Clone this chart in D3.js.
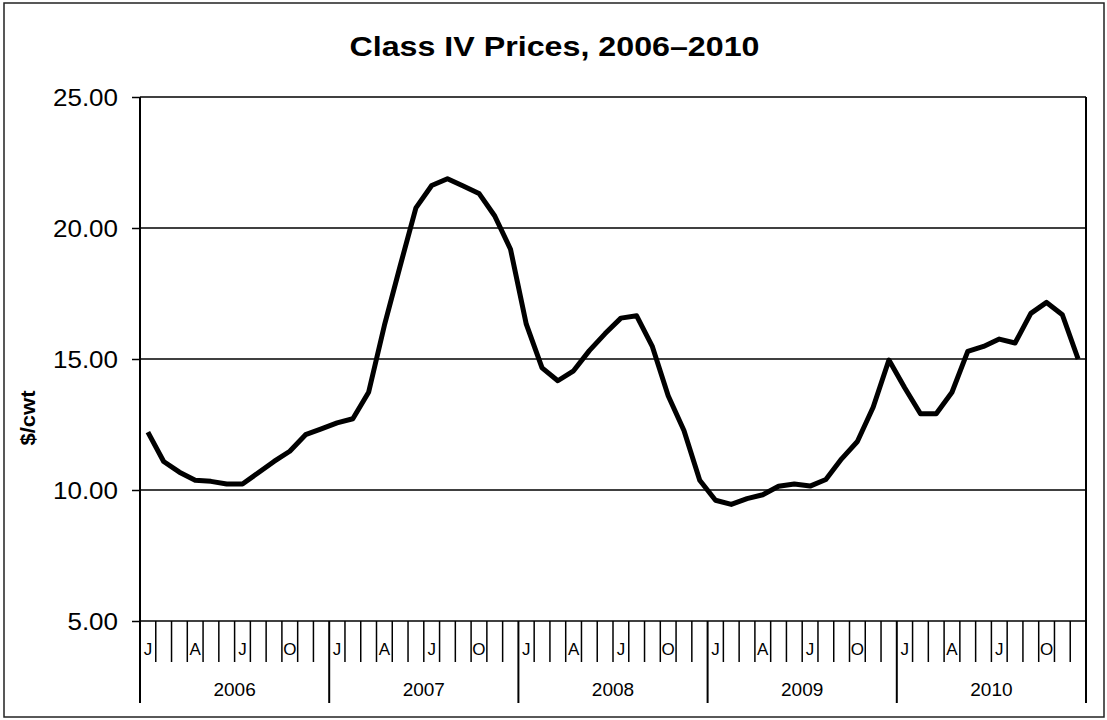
<!DOCTYPE html>
<html lang="en">
<head>
<meta charset="utf-8">
<title>Class IV Prices, 2006-2010</title>
<style>
  body { margin: 0; background: #fff; }
  text { font-family: "Liberation Sans", Arial, sans-serif; fill: #000; }
</style>
</head>
<body>
<svg width="1107" height="720"></svg>
<script src="https://d3js.org/d3.v7.min.js"></script>
<script>

var years = ["2006", "2007", "2008", "2009", "2010"];
var monthLabels = ["J", "", "", "A", "", "", "J", "", "", "O", "", ""];
var yTicks = [5, 10, 15, 20, 25];

// monthly class IV price, $/cwt, Jan 2006 - Dec 2010
var prices2006 = [12.21, 11.09, 10.68, 10.37, 10.33, 10.23, 10.23, 10.66, 11.09, 11.48, 12.11, 12.33];
var prices2007 = [12.56, 12.72, 13.73, 16.28, 18.55, 20.77, 21.62, 21.88, 21.60, 21.32, 20.46, 19.19];
var prices2008 = [16.33, 14.66, 14.17, 14.55, 15.32, 15.97, 16.56, 16.65, 15.47, 13.60, 12.27, 10.37];
var prices2009 = [9.61, 9.45, 9.67, 9.82, 10.14, 10.23, 10.15, 10.40, 11.19, 11.85, 13.16, 14.96];
var prices2010 = [13.90, 12.91, 12.91, 13.73, 15.29, 15.48, 15.76, 15.61, 16.74, 17.16, 16.69, 15.00];

var prices = [].concat(prices2006, prices2007, prices2008, prices2009, prices2010);

var svg = d3.select("svg"),
    plotL = 140, plotR = 1086, plotT = 97, plotB = 621;

// stretches text a bit wider, the original glyphs are wider than Arial
function widen(sel, f) {
  sel.each(function() {
    var w = this.getComputedTextLength();
    d3.select(this).attr("textLength", w * f).attr("lengthAdjust", "spacingAndGlyphs");
  });
}

var x = d3.scaleBand()
    .domain(d3.range(prices.length))
    .range([plotL, plotR]);

var y = d3.scaleLinear()
    .domain([5, 25])
    .range([plotB, plotT]);

// outer chart border
svg.append("rect")
    .attr("x", 4).attr("y", 3)
    .attr("width", 1100).attr("height", 714)
    .attr("fill", "none")
    .attr("stroke", "#222")
    .attr("stroke-width", 1.5);

var title = svg.append("text")
    .attr("x", 554.5).attr("y", 56)
    .attr("text-anchor", "middle")
    .style("font-size", "28px")
    .style("font-weight", "bold")
    .text("Class IV Prices, 2006\u20132010");
widen(title, 1.15);

// gridlines
svg.append("g")
  .selectAll("line")
  .data(yTicks.filter(function(d) { return d > 5; }))
  .enter().append("line")
    .attr("x1", plotL).attr("x2", plotR)
    .attr("y1", function(d) { return y(d); })
    .attr("y2", function(d) { return y(d); })
    .attr("stroke", "#000")
    .attr("stroke-width", 1.5);

// y axis
var yAxis = svg.append("g")
    .attr("transform", "translate(" + plotL + ",0)")
    .call(d3.axisLeft(y).tickValues(yTicks).tickSize(8).tickPadding(14).tickFormat(d3.format(".2f")));
yAxis.select(".domain").remove();
yAxis.selectAll(".tick line").attr("stroke", "#000").attr("stroke-width", 1.5);
yAxis.selectAll(".tick text")
    .style("font-size", "23px")
    .style("font-family", "'Liberation Sans', Arial, sans-serif")
    .attr("fill", "#000")
    .attr("dy", "0.35em");
widen(yAxis.selectAll(".tick text"), 1.13);

var ylab = svg.append("text")
    .attr("transform", "translate(35,418) rotate(-90)")
    .attr("text-anchor", "middle")
    .style("font-size", "20px")
    .style("font-weight", "bold")
    .text("$/cwt");
widen(ylab, 1.1);

// bottom of the plot
svg.append("line")
    .attr("x1", plotL).attr("x2", plotR)
    .attr("y1", plotB).attr("y2", plotB)
    .attr("stroke", "#000").attr("stroke-width", 1.5);

// month ticks at category boundaries, year boundaries run through the plot
var bounds = d3.range(prices.length + 1);
svg.append("g")
  .selectAll("line")
  .data(bounds)
  .enter().append("line")
    .attr("x1", function(d) { return plotL + d * x.bandwidth(); })
    .attr("x2", function(d) { return plotL + d * x.bandwidth(); })
    .attr("y1", function(d) { return (d === 0 || d === prices.length) ? plotT : plotB; })
    .attr("y2", function(d) { return d % 12 === 0 ? 703 : 662; })
    .attr("stroke", "#000")
    .attr("stroke-width", function(d) { return d % 12 === 0 ? 2 : 1.5; });

// month letters
svg.append("g")
  .selectAll("text")
  .data(d3.range(prices.length).filter(function(i) { return monthLabels[i % 12] !== ""; }))
  .enter().append("text")
    .attr("x", function(i) { return x(i) + x.bandwidth() / 2; })
    .attr("y", 655)
    .attr("text-anchor", "middle")
    .style("font-size", "17px")
    .text(function(i) { return monthLabels[i % 12]; });

// year labels
svg.append("g")
  .selectAll("text")
  .data(years)
  .enter().append("text")
    .attr("x", function(d, k) { return (x(k * 12) + x(k * 12 + 11) + x.bandwidth()) / 2; })
    .attr("y", 696)
    .attr("text-anchor", "middle")
    .style("font-size", "19px")
    .text(function(d) { return d; });

var line = d3.line()
    .x(function(d, i) { return x(i) + x.bandwidth() / 2; })
    .y(function(d) { return y(d); });

svg.append("path")
    .datum(prices)
    .attr("d", line)
    .attr("fill", "none")
    .attr("stroke", "#000")
    .attr("stroke-width", 5)
    .attr("stroke-linejoin", "round");

</script>
</body>
</html>
